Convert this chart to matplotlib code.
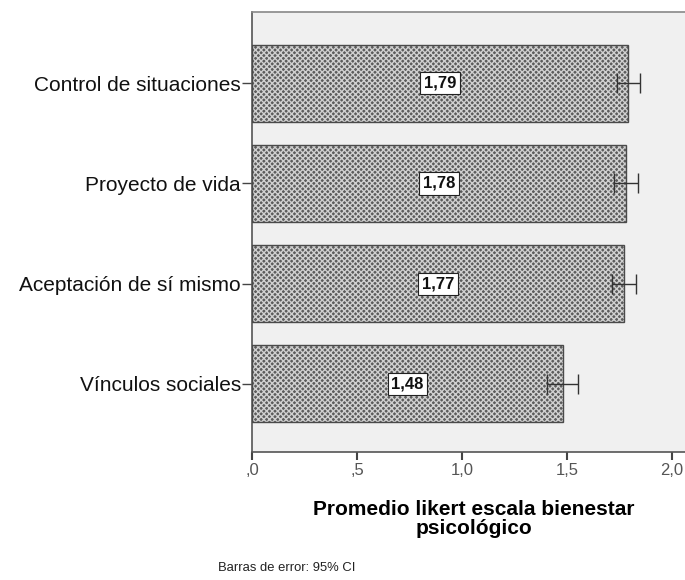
import matplotlib.pyplot as plt
import numpy as np

plt.rcParams['font.family'] = ['Liberation Sans', 'DejaVu Sans']
plt.rcParams['hatch.linewidth'] = 1.0

# data (bottom to top)
categories = ['Vínculos sociales', 'Aceptación de sí mismo', 'Proyecto de vida', 'Control de situaciones']
means = [1.48, 1.77, 1.78, 1.79]
ci_low = [1.405, 1.715, 1.725, 1.738]
ci_high = [1.552, 1.830, 1.838, 1.848]
labels = ['1,48', '1,77', '1,78', '1,79']

xticks = [0, 0.5, 1.0, 1.5, 2.0]
xticklabels = [',0', ',5', '1,0', '1,5', '2,0']

fig = plt.figure(figsize=(6.85, 5.8), dpi=100)
ax = fig.add_axes([0.368, 0.2207, 0.632, 0.7583])
ax.set_facecolor('#f0f0f0')

y = np.arange(len(categories))
h = 0.77

# hatched bars: gray fill with light crosshatch, then dark outline
ax.barh(y, means, h, color='#5c5c5c', edgecolor='#d0d0d0', hatch='xxxxxx', linewidth=0, zorder=2)
ax.barh(y, means, h, fill=False, edgecolor='#4a4a4a', linewidth=1.0, zorder=3)

means_a = np.array(means)
err = [means_a - np.array(ci_low), np.array(ci_high) - means_a]
ax.errorbar(means, y, xerr=err, fmt='none', ecolor='#333333', elinewidth=1.0,
            capsize=7, capthick=1.0, zorder=4)

for yi, m, lab in zip(y, means, labels):
    ax.text(m / 2, yi, lab, ha='center', va='center', fontsize=12, fontweight='bold',
            color='#111111', zorder=5,
            bbox=dict(boxstyle='square,pad=0.22', facecolor='white', edgecolor='#222222', linewidth=0.8))

ax.set_xlim(0, 2.062)
ax.set_ylim(-0.68, 3.71)
ax.set_yticks(y)
ax.set_yticklabels(categories, fontsize=15, color='#111111')
ax.set_xticks(xticks)
ax.set_xticklabels(xticklabels, fontsize=12, color='#555555')
ax.tick_params(axis='y', length=7, width=1, color='#444444', pad=1)
ax.tick_params(axis='x', length=6, width=1.5, color='#444444', pad=2)

ax.spines['right'].set_visible(False)
ax.spines['top'].set_color('#888888')
ax.spines['left'].set_color('#555555')
ax.spines['bottom'].set_color('#555555')
for s in ax.spines.values():
    s.set_linewidth(1.2)

fig.text(474 / 685, 1 - 519 / 580, 'Promedio likert escala bienestar\npsicológico',
         ha='center', va='center', fontsize=15, fontweight='bold', linespacing=0.95)
fig.text(287 / 685, 1 - 568 / 580, 'Barras de error: 95% CI', ha='center', va='center',
         fontsize=9.4, color='#222222')

fig.savefig('out.png', dpi=100)
